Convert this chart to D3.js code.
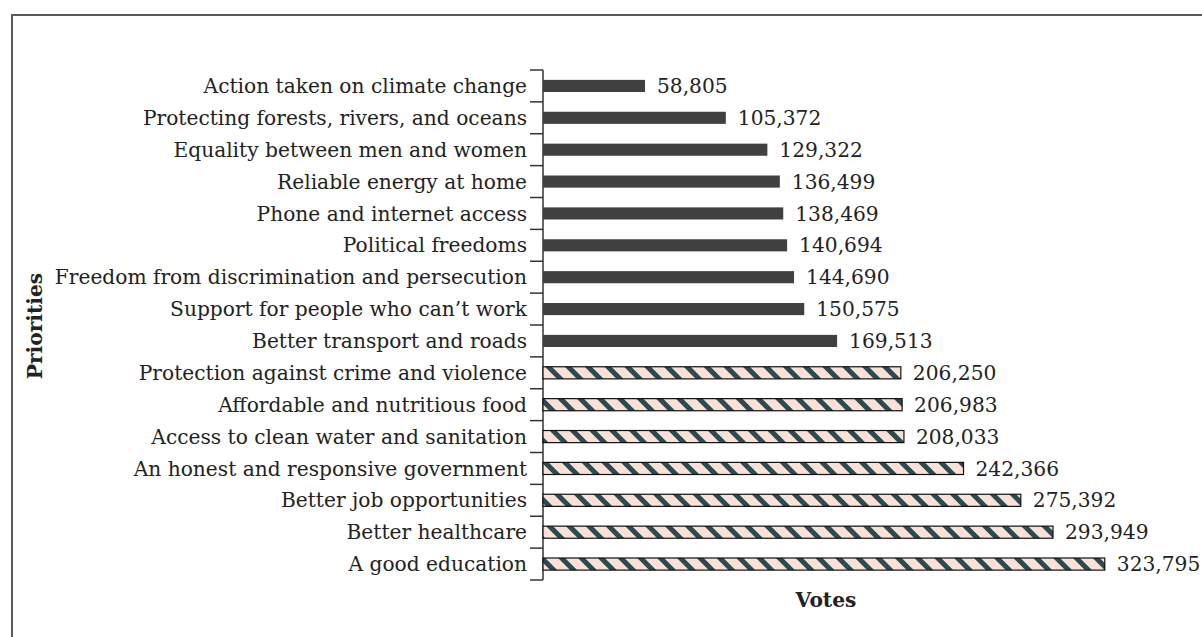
<!DOCTYPE html>
<html>
<head>
<meta charset="utf-8">
<script src="https://cdn.jsdelivr.net/npm/d3@7"></script>
<style>
  html, body { margin: 0; padding: 0; background: #fff; overflow: hidden; }
  svg { display: block; }
  text { font-family: "DejaVu Serif", serif; fill: #222; }
</style>
</head>
<body>
<svg id="chart" width="1202" height="637"></svg>
<script>
// priorities, top of chart first
var categories = [
  "Action taken on climate change",
  "Protecting forests, rivers, and oceans",
  "Equality between men and women",
  "Reliable energy at home",
  "Phone and internet access",
  "Political freedoms",
  "Freedom from discrimination and persecution",
  "Support for people who can\u2019t work",
  "Better transport and roads",
  "Protection against crime and violence",
  "Affordable and nutritious food",
  "Access to clean water and sanitation",
  "An honest and responsive government",
  "Better job opportunities",
  "Better healthcare",
  "A good education"
];
var votes = [58805, 105372, 129322, 136499, 138469, 140694, 144690, 150575,
             169513, 206250, 206983, 208033, 242366, 275392, 293949, 323795];
// which bars carry the striped fill
var topSeven = [false, false, false, false, false, false, false, false,
                false, true, true, true, true, true, true, true];

var svg = d3.select("#chart");
var fontSize = 20.2;

// frame around the figure (runs off the right and bottom edges)
svg.append("rect")
  .attr("x", 12).attr("y", 15)
  .attr("width", 1400).attr("height", 800)
  .attr("fill", "none")
  .attr("stroke", "#595959")
  .attr("stroke-width", 2);

var defs = svg.append("defs");
var pat = defs.append("pattern")
  .attr("id", "stripes")
  .attr("patternUnits", "userSpaceOnUse")
  .attr("width", 14).attr("height", 14)
  .attr("patternTransform", "rotate(-45)");
pat.append("rect").attr("width", 14).attr("height", 14).attr("fill", "#fbe0d5");
pat.append("rect").attr("x", 0).attr("width", 5).attr("height", 14).attr("fill", "#2a4b52");

var x = d3.scaleLinear().domain([0, 350000]).range([543, 543 + 350000 * 0.001735]);
var y = d3.scaleBand().domain(categories).range([70, 580])
  .paddingInner(0.62).paddingOuter(0.31);

var gap = (y.step() - y.bandwidth()) / 2;

// y axis line with ticks on band boundaries
svg.append("line")
  .attr("x1", x(0)).attr("x2", x(0))
  .attr("y1", y.range()[0]).attr("y2", y.range()[1])
  .attr("stroke", "#333").attr("stroke-width", 1.5);

var bounds = categories.map(function(c) { return y(c) - gap; });
bounds.push(y.range()[1]);
svg.selectAll(".tick")
  .data(bounds)
  .enter()
  .append("line")
  .attr("class", "tick")
  .attr("x1", x(0) - 13).attr("x2", x(0))
  .attr("y1", function(d) { return d; })
  .attr("y2", function(d) { return d; })
  .attr("stroke", "#333").attr("stroke-width", 1.5);

// category labels
svg.selectAll(".cat")
  .data(categories)
  .enter()
  .append("text")
  .attr("class", "cat")
  .attr("x", x(0) - 16)
  .attr("y", function(d) { return y(d) + y.bandwidth() / 2; })
  .attr("dy", "0.35em")
  .attr("text-anchor", "end")
  .attr("font-size", fontSize)
  .text(function(d) { return d; });

// bars
svg.selectAll(".bar")
  .data(votes)
  .enter()
  .append("rect")
  .attr("class", "bar")
  .attr("x", x(0))
  .attr("y", function(d, i) { return y(categories[i]); })
  .attr("width", function(d) { return x(d) - x(0); })
  .attr("height", y.bandwidth())
  .attr("fill", function(d, i) { return topSeven[i] ? "url(#stripes)" : "#404040"; })
  .attr("stroke", function(d, i) { return topSeven[i] ? "#111" : "none"; })
  .attr("stroke-width", 1.2);

// value labels
svg.selectAll(".val")
  .data(votes)
  .enter()
  .append("text")
  .attr("class", "val")
  .attr("x", function(d) { return x(d) + 12; })
  .attr("y", function(d, i) { return y(categories[i]) + y.bandwidth() / 2; })
  .attr("dy", "0.35em")
  .attr("font-size", fontSize)
  .text(function(d) { return d3.format(",")(d); });

// axis titles
svg.append("text")
  .attr("x", 826).attr("y", 607)
  .attr("text-anchor", "middle")
  .attr("font-size", fontSize)
  .attr("font-weight", "bold")
  .text("Votes");

svg.append("text")
  .attr("transform", "translate(42,326) rotate(-90)")
  .attr("text-anchor", "middle")
  .attr("font-size", fontSize)
  .attr("font-weight", "bold")
  .text("Priorities");
</script>
</body>
</html>
